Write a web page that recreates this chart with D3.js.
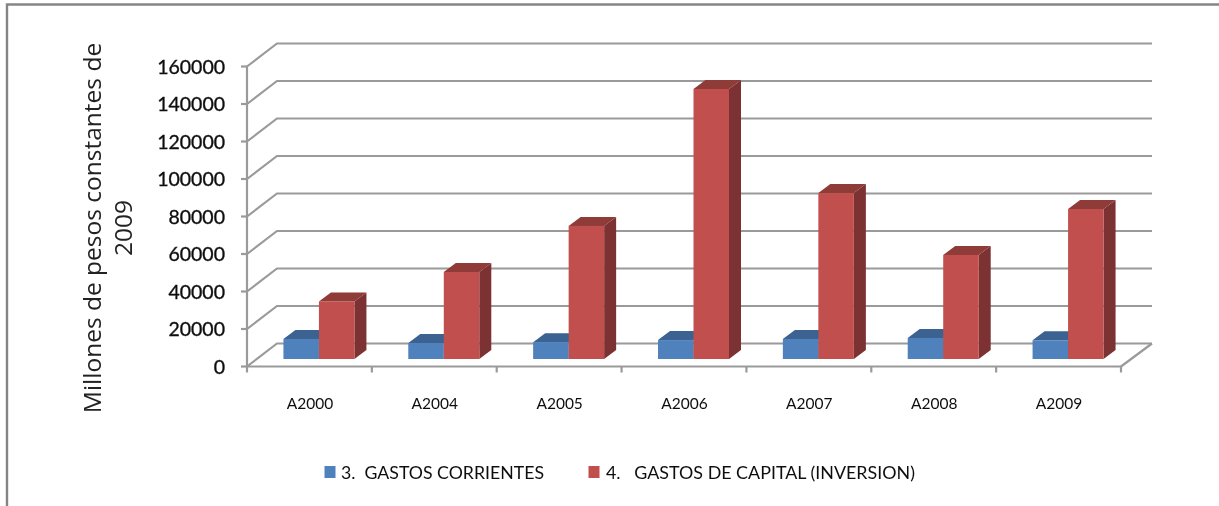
<!DOCTYPE html>
<html><head><meta charset="utf-8">
<script src="https://cdn.jsdelivr.net/npm/d3@7"></script>
<style>html,body{margin:0;padding:0;background:#fff}svg{display:block}</style>
</head><body><svg id="c" width="1219" height="506"></svg>
<script>
const categories=["A2000","A2004","A2005","A2006","A2007","A2008","A2009"];
const gastosCorrientes=[10700,8500,9000,10100,10700,11200,10000];
const gastosCapital=[30700,46400,71000,144000,88500,55500,80000];
const seriesNames=["3.  GASTOS CORRIENTES","4.   GASTOS DE CAPITAL (INVERSION)"];
const yTicks=[0,20000,40000,60000,80000,100000,120000,140000,160000];

const svg=d3.select("#c");
const defs=svg.append("defs");
defs.append("filter").attr("id","soft").attr("x","-5%").attr("y","-5%").attr("width","110%").attr("height","110%")
  .append("feGaussianBlur").attr("stdDeviation",0.5);
const root=svg.append("g").attr("filter","url(#soft)");
const grid="#9a9a9a", font="Lato,'Liberation Sans',sans-serif";
const x=d3.scaleBand().domain(categories).range([247,1121]);
const y=d3.scaleLinear().domain([0,160000]).range([366.5,66.5]);
const wallDx=30,wallDy=-23, barDx=12,barDy=-9, shiftX=9.5, shiftY=-7.5;
const groupW=71;

root.append("path").attr("d","M7,506V4.5H1219").attr("fill","none").attr("stroke","#858585").attr("stroke-width",2.4);

const gl=root.append("g").attr("fill","none").attr("stroke",grid).attr("stroke-width",2.2);
gl.selectAll("path").data(yTicks).join("path")
  .attr("d",t=>`M247,${y(t)}L${247+wallDx},${y(t)+wallDy}H${1121+wallDx+1}`);
gl.append("path").attr("d",`M${1121},${y(0)}L${1121+wallDx+1},${y(0)+wallDy}`);
gl.append("path").attr("d",`M247,${y(160000)}V${y(0)}H1121`);
gl.selectAll(".yt").data(yTicks).join("path").attr("class","yt").attr("d",t=>`M241,${y(t)}H247`);
gl.selectAll(".xt").data(d3.range(categories.length+1)).join("path").attr("class","xt")
  .attr("d",i=>{const px=i<categories.length?x(categories[i]):x.range()[1];return `M${px},${y(0)}v6`;});

function bar3d(g,cx0,w,val,front,top,side){
  const x0=cx0+shiftX, x1=x0+w, yb=y(0)+shiftY, yt=y(val)+shiftY;
  g.append("path").attr("fill",side).attr("d",`M${x1},${yt}L${x1+barDx},${yt+barDy}V${yb+barDy}L${x1},${yb}Z`);
  g.append("path").attr("fill",top).attr("d",`M${x0},${yt}L${x0+barDx},${yt+barDy}H${x1+barDx}L${x1},${yt}Z`);
  g.append("rect").attr("x",x0).attr("y",yt).attr("width",w).attr("height",yb-yt).attr("fill",front);
}
const bars=root.append("g");
categories.forEach((c,i)=>{
  const g=bars.append("g");
  const left=x(c)+x.bandwidth()/2-groupW/2;
  bar3d(g,left,groupW/2,gastosCorrientes[i],"#4f81bd","#3b6290","#39608c");
  bar3d(g,left+groupW/2,groupW/2,gastosCapital[i],"#c0504d","#8f3a38","#7c3130");
});

root.append("g").attr("font-family",font).attr("font-size",19.5).attr("fill","#111").attr("stroke","#111").attr("stroke-width",0.35).attr("text-anchor","end")
 .selectAll("text").data(yTicks).join("text").attr("x",225).attr("y",t=>y(t)).attr("dy","0.36em").text(t=>t);
root.append("g").attr("font-family",font).attr("font-size",15.5).attr("fill","#111").attr("text-anchor","middle")
 .selectAll("text").data(categories).join("text").attr("x",c=>x(c)+x.bandwidth()/2+0.5).attr("y",408.5).text(c=>c);
const tt=root.append("text").attr("font-family","'Open Sans','DejaVu Sans',sans-serif").attr("font-size",24.5).attr("fill","#222").attr("text-anchor","middle")
 .attr("transform","translate(93,228) rotate(-90)");
tt.append("tspan").attr("x",0).attr("y",8).text("Millones de pesos  constantes de");
tt.append("tspan").attr("x",0).attr("y",39).text("2009");
const lg=root.append("g").attr("font-family",font).attr("font-size",18).attr("fill","#111");
const legX=[324.5,588.5], legT=[341,606], legL=[203,309], legC=["#4f81bd","#c0504d"];
seriesNames.forEach((n,i)=>{
  lg.append("rect").attr("x",legX[i]).attr("y",466).attr("width",11).attr("height",12).attr("fill",legC[i]);
  lg.append("text").attr("x",legT[i]).attr("y",479).style("white-space","pre")
    .attr("textLength",legL[i]).attr("lengthAdjust","spacingAndGlyphs").text(n);
});
</script></body></html>
